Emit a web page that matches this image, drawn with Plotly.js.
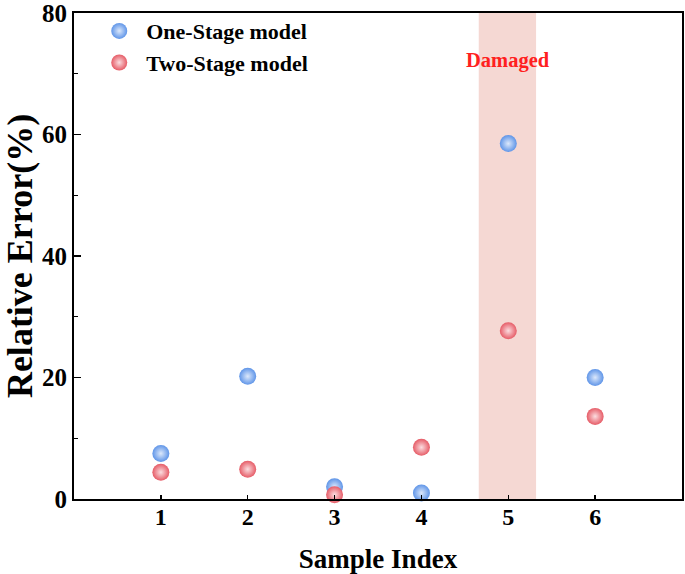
<!DOCTYPE html>
<html>
<head>
<meta charset="utf-8">
<script src="https://cdn.plot.ly/plotly-3.0.1.min.js"></script>
<style>
  html, body { margin: 0; padding: 0; background: #fff; }
  #chart { width: 685px; height: 574px; }
</style>
</head>
<body>
<div id="chart"></div>
<script>
// Sample indices and relative errors (%)
let sampleIndex = [1, 2, 3, 4, 5, 6];
let oneStageError = [7.5, 20.2, 2.0, 1.0, 58.5, 20.0];
let twoStageError = [4.4, 4.9, 0.7, 8.5, 27.7, 13.6];
let xTicks = [1, 2, 3, 4, 5, 6];
let yTicks = [0, 20, 40, 60, 80];

// Damaged sample band
let damagedStart = 4.66;
let damagedEnd = 5.32;

let serif = "Liberation Serif, Times New Roman, serif";

function sphereTrace(name, x, y, color, light) {
    return {
        x: x,
        y: y,
        name: name,
        type: 'scatter',
        mode: 'markers',
        marker: {
            size: 17,
            color: color,
            line: { width: 0 },
            gradient: { type: 'radial', color: light }
        },
        cliponaxis: false
    };
}

let data = [
    sphereTrace('One-Stage model', sampleIndex, oneStageError, '#5f95e8', '#dce8fb'),
    sphereTrace('Two-Stage model', sampleIndex, twoStageError, '#e65c67', '#fbdde0')
];

// Layout of the chart
let layout = {
    width: 685,
    height: 574,
    paper_bgcolor: '#ffffff',
    plot_bgcolor: '#ffffff',
    font: { family: serif, color: '#000000' },
    margin: { l: 74, r: 3, t: 13, b: 75 },
    showlegend: true,
    legend: {
        x: 0.03,
        y: 1.006,
        xanchor: 'left',
        yanchor: 'top',
        bgcolor: 'rgba(0,0,0,0)',
        font: { family: serif, size: 22, color: '#000000', weight: 'bold' },
        itemwidth: 44,
        tracegroupgap: 0
    },
    xaxis: {
        range: [0, 7],
        tickvals: xTicks,
        ticktext: xTicks.map(String),
        ticks: 'inside',
        ticklen: 4,
        tickwidth: 1.5,
        tickcolor: '#000',
        ticklabelstandoff: -5,
        showgrid: false,
        zeroline: false,
        showline: true,
        linecolor: '#000',
        linewidth: 2,
        mirror: true,
        tickfont: { family: serif, size: 24, weight: 'bold' },
        title: {
            text: 'Sample Index',
            font: { family: serif, size: 27, weight: 'bold' },
            standoff: 22
        }
    },
    yaxis: {
        range: [0, 80],
        tickvals: yTicks,
        ticks: 'inside',
        ticklen: 7,
        tickwidth: 1.5,
        tickcolor: '#000',
        ticklabeloverflow: 'allow',
        minor: { dtick: 10, ticks: 'inside', ticklen: 4, tickcolor: '#000', tickwidth: 1.2, showgrid: false },
        showgrid: false,
        zeroline: false,
        showline: true,
        linecolor: '#000',
        linewidth: 2,
        mirror: true,
        tickfont: { family: serif, size: 25, weight: 'bold' },
        title: {
            text: 'Relative Error(%)',
            font: { family: serif, size: 36, weight: 'bold' },
            standoff: 8
        }
    },
    shapes: [{
        type: 'rect',
        xref: 'x',
        yref: 'paper',
        x0: damagedStart,
        x1: damagedEnd,
        y0: 0,
        y1: 1,
        fillcolor: '#f5d8d3',
        line: { width: 0 },
        layer: 'below'
    }],
    annotations: [{
        x: 5,
        y: 72.2,
        xref: 'x',
        yref: 'y',
        text: 'Damaged',
        showarrow: false,
        font: { family: serif, size: 20.5, color: '#ff2020', weight: 'bold' }
    }]
};

// General chart configuration
let config = {
    displayModeBar: false,
    staticPlot: true
};

Plotly.newPlot(document.getElementById('chart'), data, layout, config);
</script>
</body>
</html>
